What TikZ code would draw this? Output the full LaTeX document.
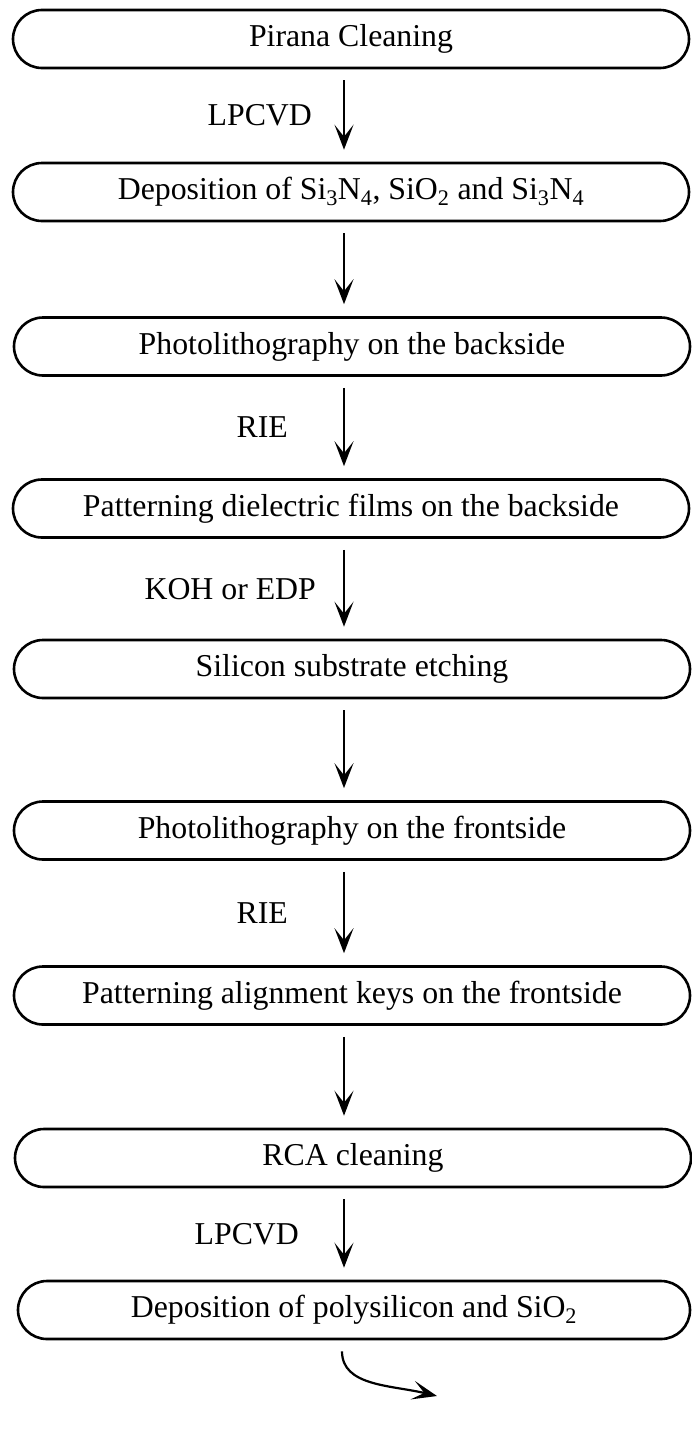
\documentclass[tikz,border=0pt]{standalone}
\usepackage{fontspec}
\setmainfont{Liberation Serif}
\usetikzlibrary{arrows.meta}

\begin{document}
\begin{tikzpicture}[x=1pt,y=1pt,
  procbox/.style={draw, line width=2.6pt, rounded corners=29pt,
    minimum width=676pt, minimum height=58pt, inner sep=0pt},
  flow/.style={line width=2.2pt, -{Stealth[length=25pt,width=19pt,inset=12pt]},
    shorten <=11pt, shorten >=12pt},
  lbl/.style={anchor=east, inner sep=0pt}]

  \fontsize{31.8}{38}\selectfont

  \useasboundingbox (0,0) rectangle (691,-1429);
  \coordinate (axis) at (344,0);

  \node[procbox] (pirana)     at (351,-39)     {Pirana Cleaning};
  \node[procbox] (depnit)     at (351,-192)    {Deposition of Si\textsubscript{3}N\textsubscript{4}, SiO\textsubscript{2} and Si\textsubscript{3}N\textsubscript{4}};
  \node[procbox] (photoback)  at (352,-346.5)  {Photolithography on the backside};
  \node[procbox] (patback)    at (351,-508.5)  {Patterning dielectric films on the backside};
  \node[procbox] (sietch)     at (352,-669)    {Silicon substrate etching};
  \node[procbox] (photofront) at (352,-830.5)  {Photolithography on the frontside};
  \node[procbox] (patfront)   at (352,-995.5)  {Patterning alignment keys on the frontside};
  \node[procbox] (rca)        at (353,-1158)   {RCA cleaning};
  \node[procbox, minimum width=672pt] (deppoly) at (354,-1310) {Deposition of polysilicon and SiO\textsubscript{2}};

  \draw[flow] (pirana.south -| axis) -- node[lbl, xshift=-31pt] (lpcvdA) {LPCVD} (depnit.north -| axis); %% pirana->depnit
  \draw[flow] (depnit.south -| axis) -- (photoback.north -| axis);
  \draw[flow] (photoback.south -| axis) -- node[lbl, xshift=-55pt] (rieA) {RIE} (patback.north -| axis);
  \draw[flow] (patback.south -| axis) -- node[lbl, xshift=-27pt] (koh) {KOH or EDP} (sietch.north -| axis);
  \draw[flow] (sietch.south -| axis) -- (photofront.north -| axis);
  \draw[flow] (photofront.south -| axis) -- node[lbl, xshift=-55pt] (rieB) {RIE} (patfront.north -| axis);
  \draw[flow] (patfront.south -| axis) -- (rca.north -| axis);
  \draw[flow] (rca.south -| axis) -- node[lbl, xshift=-44pt] (lpcvdB) {LPCVD} (deppoly.north -| axis); %% rca->deppoly

  %% on to the next page
  \coordinate (next) at (437,-1396);
  \draw[flow, shorten >=0pt] ([xshift=-2pt]deppoly.south -| axis) .. controls +(0,-46) and +(-46,11) .. (next);

\end{tikzpicture}
\end{document}
